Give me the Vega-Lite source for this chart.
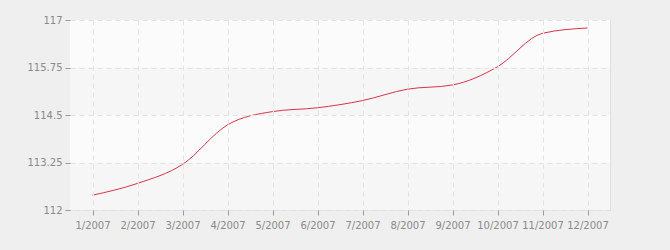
{
  "$schema": "https://vega.github.io/schema/vega-lite/v6.json",
  "autosize": {"type": "none"},
  "width": 540,
  "height": 190,
  "padding": {"left": 70, "top": 20, "right": 60, "bottom": 40},
  "background": "#efefef",
  "config": {
    "view": {"stroke": "#dedede", "strokeWidth": 1, "fill": "#fbfbfb"},
    "font": "DejaVu Sans",
    "axis": {
      "labelFont": "DejaVu Sans",
      "labelFontSize": 10,
      "labelColor": "#8a8a8a",
      "tickColor": "#9a9a9a",
      "tickSize": 5,
      "domain": false,
      "grid": true,
      "gridColor": "#e3e3e3",
      "gridDash": [5, 4],
      "gridWidth": 1,
      "title": null
    }
  },
  "datasets": {
    "bands": [
      {"lo": 115.75, "hi": 117, "band": "a"},
      {"lo": 114.5, "hi": 115.75, "band": "b"},
      {"lo": 113.25, "hi": 114.5, "band": "a"},
      {"lo": 112, "hi": 113.25, "band": "b"}
    ],
    "series": [
      {"month": "1/2007", "value": 112.39},
      {"month": "2/2007", "value": 112.70},
      {"month": "3/2007", "value": 113.20},
      {"month": "4/2007", "value": 114.24},
      {"month": "5/2007", "value": 114.59},
      {"month": "6/2007", "value": 114.69},
      {"month": "7/2007", "value": 114.88},
      {"month": "8/2007", "value": 115.18},
      {"month": "9/2007", "value": 115.29},
      {"month": "10/2007", "value": 115.77},
      {"month": "11/2007", "value": 116.65},
      {"month": "12/2007", "value": 116.79}
    ]
  },
  "layer": [
    {
      "data": {"name": "bands"},
      "mark": {"type": "rect"},
      "encoding": {
        "y": {"field": "lo", "type": "quantitative", "scale": {"domain": [112, 117]},
              "axis": {"values": [112, 113.25, 114.5, 115.75, 117], "labelPadding": 3, "format": ".2~f", "zindex": 1}},
        "y2": {"field": "hi"},
        "color": {"field": "band", "type": "nominal", "legend": null,
                  "scale": {"domain": ["a", "b"], "range": ["#fbfbfb", "#f6f6f6"]}}
      }
    },
    {
      "data": {"name": "series"},
      "mark": {"type": "line", "interpolate": "monotone", "color": "#d8344c", "strokeWidth": 1, "zindex": 2},
      "encoding": {
        "x": {"field": "month", "type": "ordinal", "sort": null,
              "scale": {"type": "point", "padding": 0.5},
              "axis": {"labelAngle": 0, "labelPadding": 5, "zindex": 1}},
        "y": {"field": "value", "type": "quantitative", "scale": {"domain": [112, 117]}}
      }
    }
  ]
}
